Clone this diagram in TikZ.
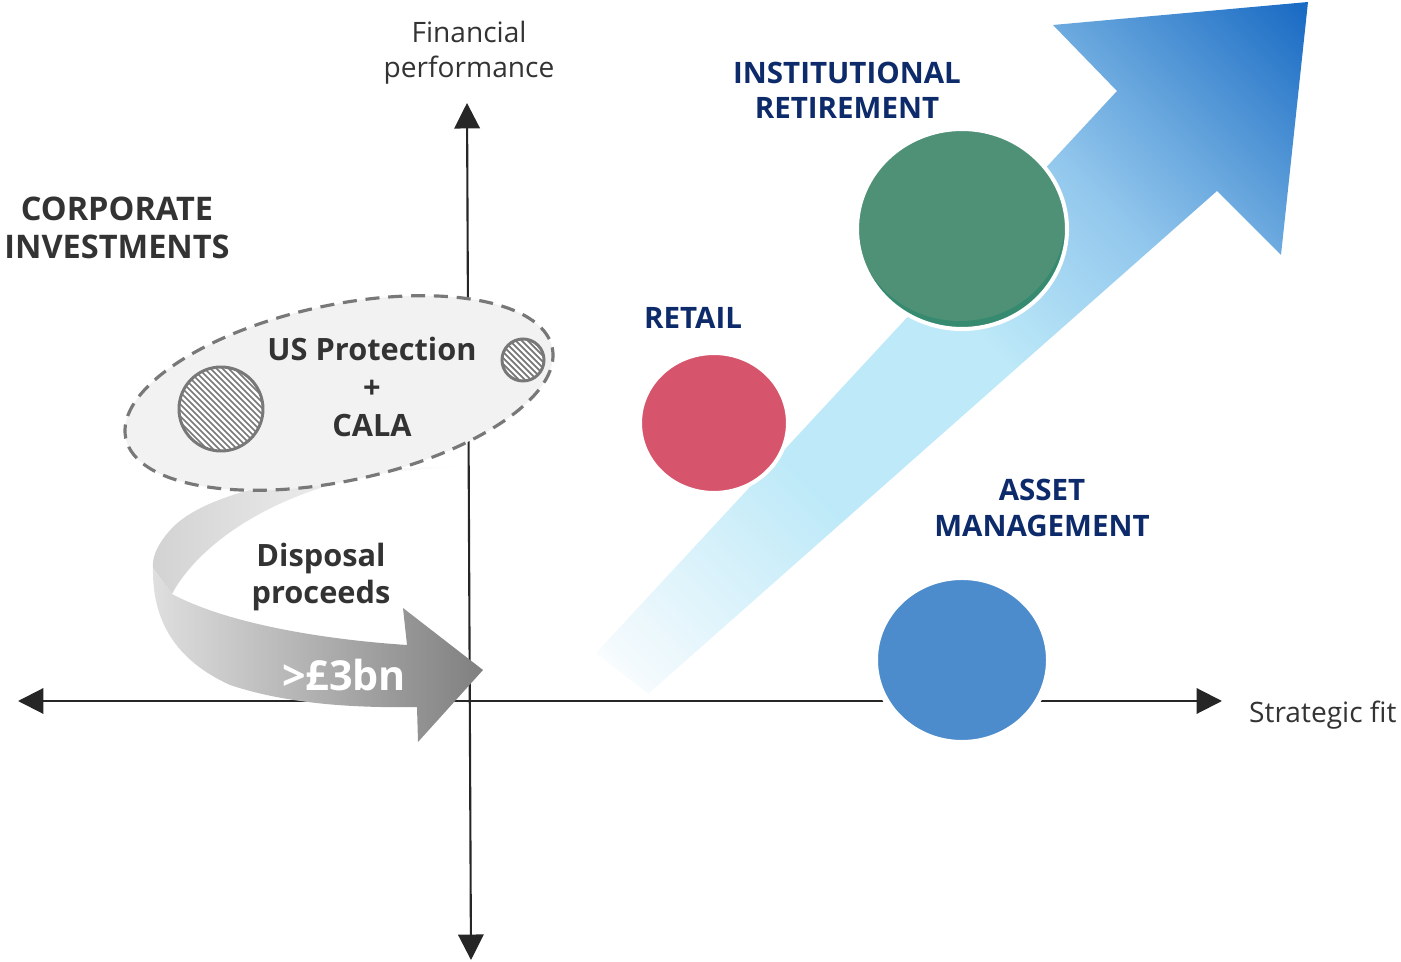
\documentclass[tikz,border=0pt]{standalone}
\usepackage{fontspec}
\setmainfont{Open Sans}
\usetikzlibrary{arrows.meta}

\definecolor{ink}{HTML}{262626}
\definecolor{labelgray}{HTML}{333333}
\definecolor{navy}{HTML}{0D2A6B}
\definecolor{instgreen}{HTML}{4E9176}
\definecolor{instdark}{HTML}{368A70}
\definecolor{retailred}{HTML}{D6546C}
\definecolor{assetblue}{HTML}{4D8CCC}
\definecolor{ringgray}{HTML}{787878}
\definecolor{groupfill}{HTML}{F2F2F2}
\definecolor{growpale}{HTML}{F3FAFD}
\definecolor{growlight}{HTML}{BDE9F8}
\definecolor{growmid}{HTML}{92C7ED}
\definecolor{growdeep}{HTML}{5E9FDA}
\definecolor{growtip}{HTML}{1A6BC4}

\pgfdeclareverticalshading{growth}{100bp}{color(0bp)=(white); color(15bp)=(white); color(18bp)=(growpale); color(36bp)=(growlight); color(52bp)=(growlight); color(65bp)=(growmid); color(74bp)=(growdeep); color(85bp)=(growtip); color(100bp)=(growtip)}

\tikzset{
  axis/.style={line width=1.2pt, draw=ink, {Triangle[length=14.5pt,width=14.5pt]}-{Triangle[length=14.5pt,width=14.5pt]}},
  axislabel/.style={font=\fontsize{16}{20}\selectfont, text=labelgray, align=center},
  segment/.style={font=\fontsize{16.8}{20}\selectfont\bfseries, text=navy, align=center},
  darkhead/.style={font=\fontsize{17.5}{21.5}\selectfont\bfseries, text=labelgray, align=center},
  ring/.style={draw=white, line width=2.3pt},
  hatchline/.style={draw=ringgray, line width=1pt},
  groupring/.style={draw=ringgray, fill=groupfill, line width=1.8pt, dash pattern=on 8pt off 5pt},
}

\begin{document}
\begin{tikzpicture}[x=0.02cm, y=-0.02cm]
  \useasboundingbox (0,0) rectangle (1401,962);
  \coordinate (XL) at (18,701);
  \coordinate (XR) at (1222,701);
  \coordinate (YT) at (467,103);
  \coordinate (YB) at (471,960);
  \draw[axis] (XL) -- (XR);
  \draw[axis] (YB) -- (YT);

  % growth arrow
  \shade[shading=growth, shading angle=-45] (1308,2) -- (1053,25) -- (1117,91) -- (596,653)
    -- (648,694) -- (1217,191) -- (1281,255) -- cycle;

  % disposal ribbon
  \shade[left color=gray!35, right color=white] (457,466) .. controls (330,470) and (220,485) .. (175,525)
    .. controls (155,545) and (152,560) .. (153,568) -- (172,594)
    .. controls (190,560) and (240,510) .. (340,482) .. controls (390,470) and (430,468) .. (457,468) -- cycle;
  \shade[left color=gray!25, middle color=black!45, right color=black!50] (153,568)
    .. controls (152,620) and (175,660) .. (230,685) .. controls (290,705) and (360,708) .. (417,707)
    -- (418,742) -- (483,670) -- (403,608) -- (407,645)
    .. controls (330,640) and (230,625) .. (172,594) -- cycle;

  % corporate investments group
  \coordinate (GRP) at (339,393);
  \draw[groupring, rotate around={12:(GRP)}] (GRP) ellipse [x radius=218, y radius=88];
  \coordinate (HB) at (221,409);
  \coordinate (HS) at (523,360);
  \foreach \c/\r in {HB/42, HS/21} {
    \begin{scope}
      \clip (\c) circle [radius=\r];
      \fill[white] (\c) circle [radius=\r];
      \foreach \k in {-10,...,10}
        \draw[hatchline, shift={(\c)}] (\k*6-60,-60) -- ++(120,120);
    \end{scope}
    \draw[ringgray, line width=1.7pt] (\c) circle [radius=\r];
  }

  % business circles
  \coordinate (INST) at (962,229);
  \coordinate (RET) at (714,423);
  \coordinate (AM) at (962,660);
  \begin{scope}
    \clip (INST) ellipse [x radius=105, y radius=100];
    \fill[instdark] (INST) ellipse [x radius=105, y radius=100];
    \fill[instgreen] ([shift={(-2,-8)}]INST) ellipse [x radius=105, y radius=100];
  \end{scope}
  \draw[ring] (INST) ellipse [x radius=105, y radius=100];
  \filldraw[ring, fill=retailred] (RET) ellipse [x radius=74, y radius=70];
  \filldraw[ring, fill=assetblue, line width=3.4pt] (AM) ellipse [x radius=87, y radius=83];

  % labels
  \node[axislabel] (fin) at (469,53) {Financial\\performance};
  \node[axislabel, anchor=west] (fit) at (1243,715) {Strategic fit};
  \node[darkhead, font=\fontsize{18.5}{21.5}\selectfont\bfseries] (corp) at (117,228) {CORPORATE\\INVESTMENTS};
  \node[segment] (instlab) at (847,90) {INSTITUTIONAL\\RETIREMENT};
  \node[segment] (retlab) at (693,318) {RETAIL};
  \node[segment] (amlab) at (1042,508) {ASSET\\MANAGEMENT};
  \node[darkhead] (usp) at (372,387) {US Protection\\+\\CALA};
  \node[darkhead] (disp) at (321,577) {Disposal\\proceeds};
  \node[darkhead, text=white, font=\fontsize{23.5}{26}\selectfont\bfseries] (amount) at (344,675) {>£3bn};
\end{tikzpicture}
\end{document}
